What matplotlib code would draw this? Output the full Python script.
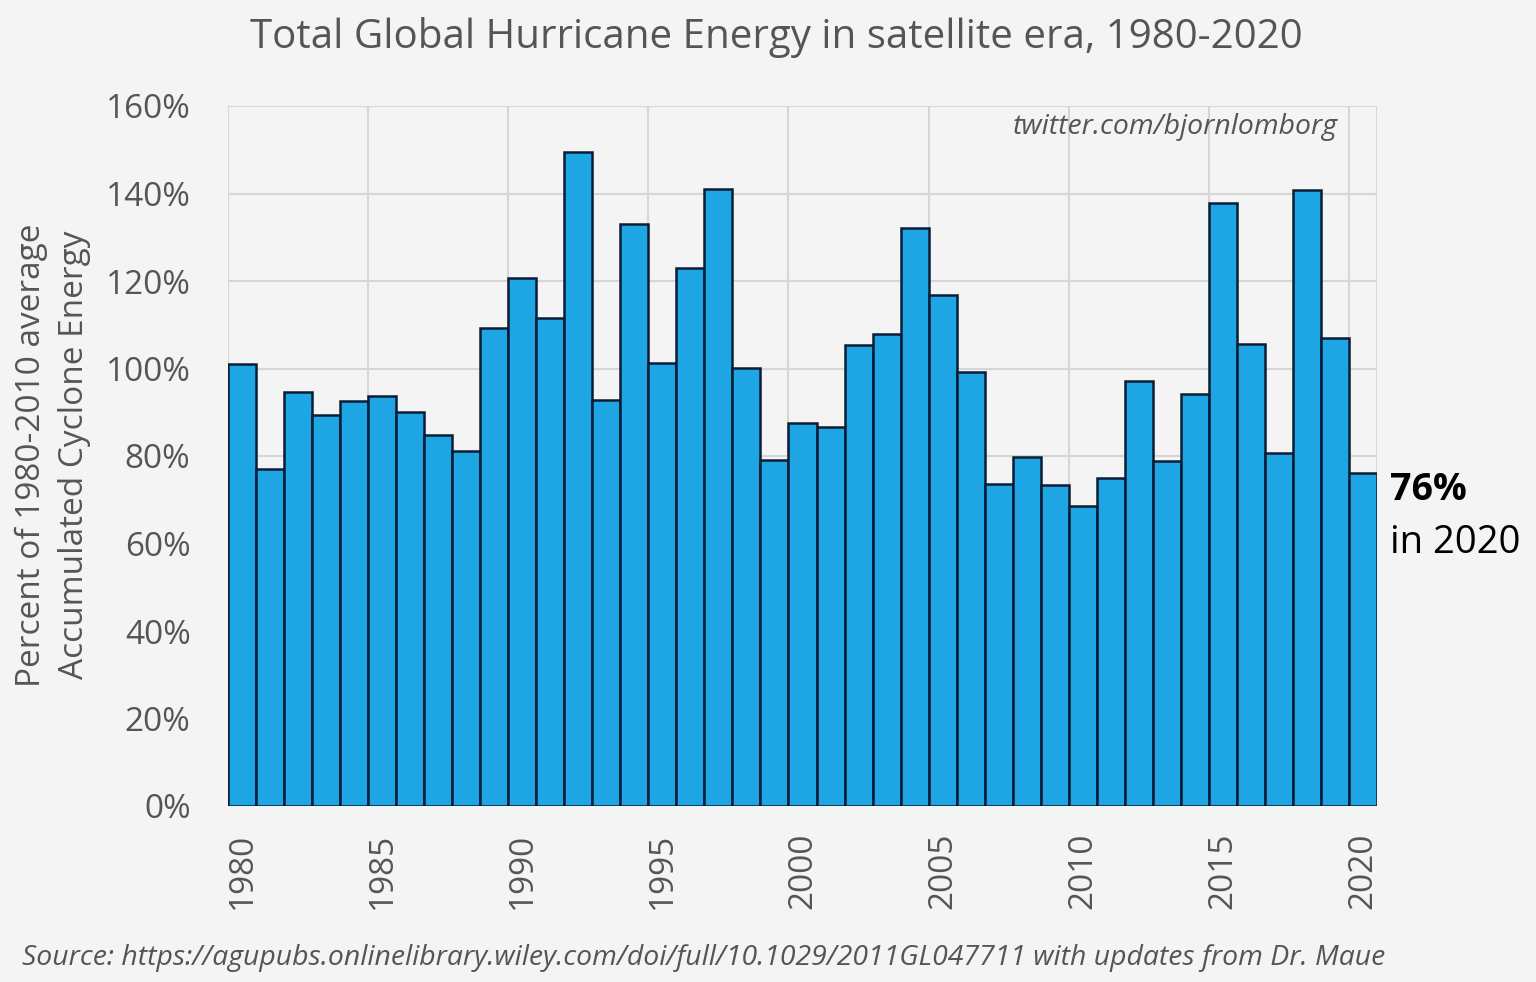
import matplotlib
matplotlib.use("Agg")
import matplotlib.pyplot as plt
from matplotlib.ticker import MultipleLocator, FuncFormatter

years = list(range(1980, 2021))
ace_pct = [101, 77, 94.6, 89.4, 92.6, 93.7, 90, 84.8, 81.1, 109.3,
           120.7, 111.5, 149.5, 92.8, 133, 101.3, 123, 141, 100.1, 79.1,
           87.5, 86.6, 105.4, 107.9, 132.1, 116.8, 99.2, 73.6, 79.8, 73.4,
           68.6, 75, 97.1, 78.9, 94.2, 137.8, 105.6, 80.7, 140.8, 107, 76.1]
tick_years = list(range(1980, 2021, 5))

title = "Total Global Hurricane Energy in satellite era, 1980-2020"
ylabel = "Percent of 1980-2010 average\nAccumulated Cyclone Energy"
source = "Source: https://agupubs.onlinelibrary.wiley.com/doi/full/10.1029/2011GL047711 with updates from Dr. Maue"
credit = "twitter.com/bjornlomborg"

plt.rcParams['font.family'] = ['Open Sans', 'DejaVu Sans']
bg = "#f4f4f4"
gray = "#555555"

fig = plt.figure(figsize=(15.36, 9.82), dpi=100, facecolor=bg)
ax = fig.add_axes([228/1536, 1-806/982, (1377-228)/1536, (806-106)/982])
ax.set_facecolor(bg)

ax.bar(years, ace_pct, width=1.0, color="#1ea5e4", edgecolor="#0b1d36",
       linewidth=1.8, zorder=3)

ax.set_xlim(years[0]-0.5, years[-1]+0.5)
ax.set_ylim(0, 160)
ax.yaxis.set_major_locator(MultipleLocator(20))
ax.yaxis.set_major_formatter(FuncFormatter(lambda v, p: f"{int(v)}%"))
ax.set_xticks(tick_years)
ax.set_xticklabels([str(y) for y in tick_years], rotation=90)

# vertical grid lines at left edges of every 5th year bar
for y in tick_years:
    ax.axvline(y-0.5, color="#d6d6d6", lw=1.5, zorder=1)
ax.axvline(years[-1]+0.5, color="#d6d6d6", lw=1.5, zorder=1)
ax.yaxis.grid(True, color="#d6d6d6", lw=1.5, zorder=1)
ax.set_axisbelow(True)

for s in ax.spines.values():
    s.set_visible(False)
ax.tick_params(axis='both', length=0, labelsize=24, colors=gray)
ax.tick_params(axis='y', pad=27)
ax.tick_params(axis='x', pad=19)

fig.text(53/1536, 1-455/982, ylabel, ha='center', va='center', rotation=90,
         fontsize=24, color=gray, linespacing=1.38, multialignment='center')

fig.text(776/1536, 1-37/982, title, ha='center', va='center', fontsize=29, color=gray)
fig.text(1338/1536, 1-127/982, credit, ha='right', va='center', fontsize=20.4,
         style='italic', color=gray)
fig.text(22/1536, 1-958/982, source, ha='left', va='center', fontsize=20.4,
         style='italic', color=gray)
fig.text(1390/1536, 1-490/982, "76%", ha='left', va='center', fontsize=27,
         fontweight='bold', color='black')
fig.text(1390/1536, 1-543/982, "in 2020", ha='left', va='center', fontsize=27.5,
         color='black')

fig.savefig("out.png", dpi=100, facecolor=bg)
